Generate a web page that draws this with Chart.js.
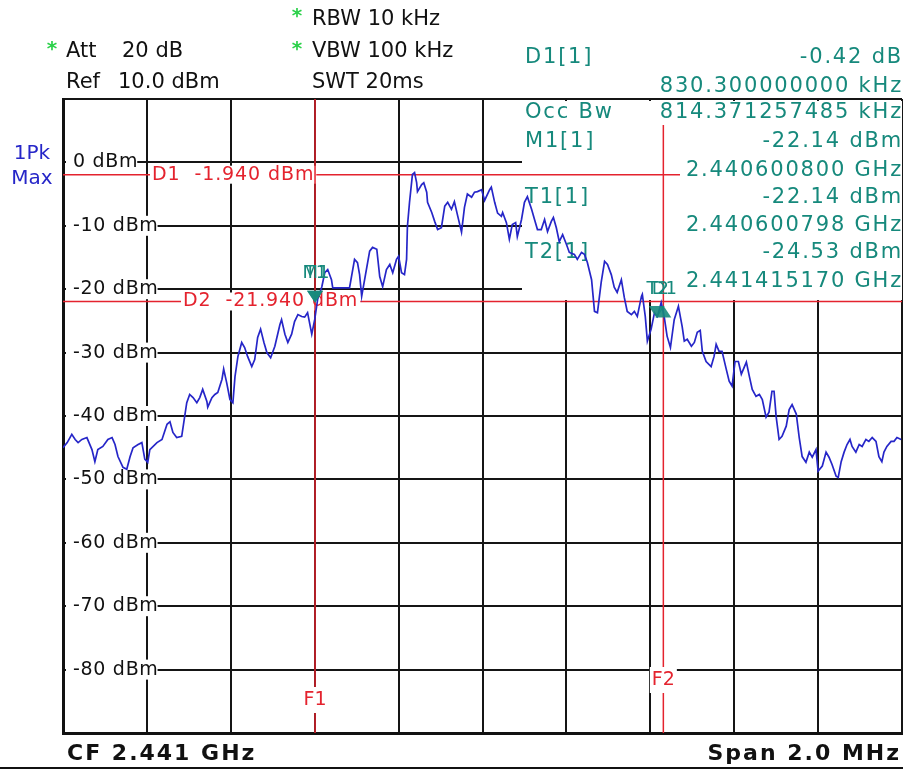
<!DOCTYPE html>
<html lang="en">
<head>
<meta charset="UTF-8" />
<title>Occupied bandwidth</title>
<script src="https://cdn.jsdelivr.net/npm/chart.js"></script>
<style>
  html, body { margin: 0; padding: 0; background: #fff; }
  #c { display: block; }
</style>
</head>
<body>
<canvas id="c" width="903" height="771"></canvas>
<script>
// trace: frequency offset from 2.440 GHz (kHz) and level (dBm)
const freqKHz = [0,10,21,29,36,45,57,69,76,83,95,107,117,124,131,143,152,160,167,179,188,195,202,207,224,236,248,255,262,271,283,290,295,302,310,319,326,333,343,345,355,362,369,379,383,390,398,405,410,417,426,433,440,450,457,464,471,479,486,495,505,517,521,529,536,545,552,560,569,576,583,593,600,607,617,624,631,640,643,660,683,695,702,707,712,719,731,738,748,755,762,771,779,786,795,800,807,814,819,821,826,833,838,843,845,855,860,867,869,879,886,893,902,910,917,926,933,940,950,957,964,974,981,988,998,1005,1017,1021,1029,1036,1045,1048,1057,1064,1071,1079,1083,1093,1100,1107,1117,1124,1131,1140,1148,1155,1164,1169,1176,1183,1191,1200,1207,1219,1226,1236,1243,1250,1260,1267,1274,1283,1291,1298,1307,1314,1321,1331,1338,1345,1355,1362,1369,1379,1381,1388,1393,1402,1410,1417,1426,1433,1440,1448,1457,1467,1476,1481,1488,1498,1505,1512,1519,1524,1533,1545,1552,1557,1564,1571,1581,1588,1595,1602,1610,1617,1624,1629,1636,1643,1652,1660,1667,1676,1683,1690,1695,1700,1707,1714,1724,1731,1738,1748,1755,1762,1771,1779,1786,1795,1800,1810,1819,1826,1833,1843,1848,1855,1862,1869,1876,1881,1890,1898,1905,1914,1921,1929,1938,1945,1952,1957,1964,1974,1981,1988,1998];
const levelDbm = [-45.0,-44.2,-42.9,-43.7,-44.2,-43.7,-43.4,-45.3,-47.2,-45.3,-44.8,-43.7,-43.4,-44.5,-46.4,-48.1,-48.4,-46.4,-45.0,-44.5,-44.2,-46.8,-47.3,-45.3,-44.2,-43.7,-41.3,-40.9,-42.6,-43.4,-43.2,-40.1,-37.9,-36.6,-37.1,-37.9,-37.1,-35.8,-37.7,-38.6,-37.1,-36.6,-36.3,-34.2,-32.6,-34.7,-37.4,-37.9,-33.8,-30.6,-28.4,-29.2,-30.6,-32.2,-31.1,-27.6,-26.3,-28.4,-30.0,-30.8,-29.0,-25.6,-24.8,-27.1,-28.4,-27.1,-25.1,-24.0,-24.3,-24.4,-23.7,-27.1,-24.8,-21.6,-19.6,-17.4,-16.9,-18.5,-19.8,-19.8,-19.8,-15.3,-15.8,-17.7,-21.1,-18.5,-14.0,-13.4,-13.7,-18.0,-19.6,-16.9,-16.1,-17.4,-15.3,-14.8,-17.4,-17.7,-15.3,-10.1,-6.3,-1.9,-1.6,-3.2,-4.6,-3.5,-3.2,-4.7,-6.3,-7.9,-9.3,-10.6,-10.3,-6.9,-6.3,-7.4,-6.2,-8.2,-11.0,-7.1,-5.0,-5.5,-4.7,-4.6,-4.3,-6.0,-4.3,-3.9,-6.3,-8.0,-8.5,-7.9,-9.5,-12.1,-9.8,-9.5,-11.7,-9.0,-6.3,-5.4,-7.4,-9.0,-10.6,-10.6,-9.0,-10.9,-9.3,-8.7,-10.3,-12.5,-11.4,-12.9,-14.2,-14.5,-15.3,-14.2,-14.5,-15.8,-18.5,-23.5,-23.7,-18.9,-15.6,-16.1,-17.7,-19.7,-20.5,-18.5,-21.3,-23.5,-24.0,-23.5,-24.3,-21.1,-20.8,-24.3,-28.2,-26.3,-23.7,-24.3,-22.1,-24.3,-27.4,-29.2,-24.8,-22.7,-25.9,-28.2,-27.9,-29.0,-28.4,-26.8,-26.5,-29.8,-31.4,-32.2,-30.6,-28.7,-29.8,-29.8,-32.6,-34.5,-35.3,-31.4,-31.4,-33.4,-32.3,-31.5,-33.7,-35.8,-36.9,-36.6,-37.4,-40.2,-39.4,-36.1,-36.1,-40.1,-43.7,-43.2,-41.6,-39.0,-38.2,-39.7,-43.4,-46.4,-47.3,-45.7,-46.5,-45.3,-48.7,-47.9,-45.7,-46.5,-47.6,-49.5,-49.7,-47.2,-45.7,-44.5,-43.7,-44.8,-45.7,-44.5,-44.8,-43.7,-44.0,-43.4,-44.0,-46.4,-47.2,-45.7,-44.8,-44.0,-44.0,-43.4,-43.7];

const yLabelValues = [0, -10, -20, -30, -40, -50, -60, -70, -80];

// display lines (dBm) and frequency lines (kHz from 2.440 GHz)
const displayLineNames = ['D1', 'D2'];
const displayLineDbm = [-1.94, -21.94];
const freqLineNames = ['F1', 'F2'];
const freqLineKHz = [600.8, 1431.1];

// markers
const markerNames = ['M1', 'T1', 'T2', 'D1'];
const markerKHz = [600.8, 600.798, 1415.17, 1431.1];
const markerDbm = [-22.14, -22.14, -24.53, -22.56];
const markerDir = ['down', 'down', 'down', 'up'];

// marker table (left column, right column)
const tableLeft = ['D1[1]', '', 'Occ Bw', 'M1[1]', '', 'T1[1]', '', 'T2[1]', ''];
const tableRight = ['-0.42 dB', '830.300000000 kHz', '814.371257485 kHz', '-22.14 dBm', '2.440600800 GHz', '-22.14 dBm', '2.440600798 GHz', '-24.53 dBm', '2.441415170 GHz'];
const tableRowY = [58, 87, 113, 142, 171, 198, 226, 253, 282];

const TEAL = '#16897c';
const RED = '#e4232e';
const BLUE = '#2626c8';
const FONT = '"DejaVu Sans", Verdana, sans-serif';

function drawText(ctx, s, x, y, o) {
  ctx.save();
  ctx.font = o.font;
  ctx.letterSpacing = o.ls || '0px';
  ctx.textAlign = o.align || 'left';
  ctx.textBaseline = 'middle';
  if (o.bg) {
    const w = ctx.measureText(s).width;
    let x0 = x;
    if (o.align === 'center') x0 = x - w / 2;
    if (o.align === 'right') x0 = x - w;
    ctx.fillStyle = '#fff';
    ctx.fillRect(x0 - 2, y - o.bg / 2, w + 4, o.bg);
  }
  ctx.fillStyle = o.color;
  ctx.fillText(s, x, y);
  ctx.restore();
}

function line(ctx, x1, y1, x2, y2, color, w) {
  ctx.save();
  ctx.strokeStyle = color;
  ctx.lineWidth = w;
  ctx.beginPath();
  ctx.moveTo(x1, y1);
  ctx.lineTo(x2, y2);
  ctx.stroke();
  ctx.restore();
}

const analyzerPlugin = {
  id: 'analyzer',
  beforeDatasetsDraw(chart) {
    const { ctx, chartArea: a, scales: { x, y } } = chart;

    // marker table hides the grid in the upper right
    ctx.fillStyle = '#fff';
    ctx.fillRect(522, a.top + 2, a.right - 522, 298 - a.top);

    // level labels inside the grid
    const lblFont = '19px ' + FONT;
    yLabelValues.forEach(v => {
      const py = y.getPixelForValue(v);
      ctx.save();
      ctx.font = lblFont;
      ctx.letterSpacing = '0.7px';
      const w = ctx.measureText(v + ' dBm').width;
      ctx.fillStyle = '#fff';
      ctx.fillRect(a.left + 3, py - 10, 73 + w - a.left - 4, 20);
      ctx.restore();
      drawText(ctx, v + ' dBm', 73, py, { font: lblFont, ls: '0.7px', color: '#111' });
    });

    // display lines
    const dlLabelX = [152, 183];
    const dlEnd = [680, a.right];
    displayLineDbm.forEach((v, i) => {
      const py = y.getPixelForValue(v);
      line(ctx, a.left, py, dlEnd[i], py, RED, 1.5);
      drawText(ctx, displayLineNames[i] + '  ' + v.toFixed(3) + ' dBm', dlLabelX[i], py,
        { font: '19px ' + FONT, ls: '0.9px', color: RED, bg: 18 });
    });

    // frequency lines
    const flTop = [a.top, 125];
    const flLabelY = [700, 680];
    freqLineKHz.forEach((f, i) => {
      const px = x.getPixelForValue(f);
      line(ctx, px, flTop[i], px, a.bottom, RED, 1.5);
      drawText(ctx, freqLineNames[i], px, flLabelY[i],
        { font: '19px ' + FONT, color: RED, align: 'center', bg: 26 });
    });

    // marker table
    const tFont = '21px ' + FONT;
    tableRowY.forEach((ty, i) => {
      if (tableLeft[i]) drawText(ctx, tableLeft[i], 525, ty, { font: tFont, ls: '1.8px', color: TEAL });
      drawText(ctx, tableRight[i], 903, ty, { font: tFont, ls: '1.8px', color: TEAL, align: 'right' });
    });
  },
  afterDatasetsDraw(chart) {
    const { ctx, scales: { x, y } } = chart;
    markerNames.forEach((name, i) => {
      const px = x.getPixelForValue(markerKHz[i]);
      const py = y.getPixelForValue(markerDbm[i]);
      const down = markerDir[i] === 'down';
      ctx.save();
      ctx.fillStyle = TEAL;
      ctx.globalAlpha = 0.9;
      ctx.beginPath();
      ctx.moveTo(px, py);
      ctx.lineTo(px - 8, down ? py - 12 : py + 12);
      ctx.lineTo(px + 8, down ? py - 12 : py + 12);
      ctx.closePath();
      ctx.fill();
      ctx.restore();
      drawText(ctx, name, px + 1, down ? py - 29 : py - 16,
        { font: '18px ' + FONT, color: TEAL, align: 'center' });
    });
  },
  afterDraw(chart) {
    const ctx = chart.ctx;
    const hdr = { font: '21px ' + FONT, color: '#111' };
    const star = { font: 'bold 20px ' + FONT, color: '#2bd14a', align: 'center' };
    drawText(ctx, '*', 297, 17, star);
    drawText(ctx, '*', 52, 50, star);
    drawText(ctx, '*', 297, 50, star);
    drawText(ctx, 'RBW 10 kHz', 312, 20, hdr);
    drawText(ctx, 'Att', 66, 52, hdr);
    drawText(ctx, '20 dB', 122, 52, hdr);
    drawText(ctx, 'VBW 100 kHz', 312, 52, hdr);
    drawText(ctx, 'Ref', 66, 83, hdr);
    drawText(ctx, '10.0 dBm', 118, 83, hdr);
    drawText(ctx, 'SWT 20ms', 312, 83, hdr);

    drawText(ctx, '1Pk', 32, 154, { font: '20px ' + FONT, color: BLUE, align: 'center' });
    drawText(ctx, 'Max', 32, 179, { font: '20px ' + FONT, color: BLUE, align: 'center' });

    const foot = { font: 'bold 22px ' + FONT, ls: '2px', color: '#111' };
    drawText(ctx, 'CF 2.441 GHz', 67, 754, foot);
    drawText(ctx, 'Span 2.0 MHz', 901, 754, Object.assign({}, foot, { align: 'right' }));
    ctx.fillStyle = '#111';
    ctx.fillRect(0, 767, 903, 2);
  }
};

const gridOpts = {
  color: '#151515',
  lineWidth: 2,
  drawTicks: false
};

new Chart(document.getElementById('c'), {
  type: 'scatter',
  data: {
    datasets: [{
      label: 'Trace 1',
      data: freqKHz.map((f, i) => ({ x: f, y: levelDbm[i] })),
      showLine: true,
      borderColor: BLUE,
      borderWidth: 1.7,
      pointRadius: 0,
      tension: 0
    }]
  },
  options: {
    responsive: false,
    animation: false,
    layout: { padding: { left: 63, top: 99, right: 1, bottom: 38 } },
    plugins: { legend: { display: false }, tooltip: { enabled: false } },
    scales: {
      x: {
        type: 'linear', min: 0, max: 2000,
        ticks: { display: false, stepSize: 200 },
        grid: gridOpts,
        border: { display: true, color: '#111', width: 3 }
      },
      y: {
        type: 'linear', min: -90, max: 10,
        ticks: { display: false, stepSize: 10 },
        grid: gridOpts,
        border: { display: true, color: '#111', width: 3 }
      }
    }
  },
  plugins: [analyzerPlugin]
});
</script>
</body>
</html>
